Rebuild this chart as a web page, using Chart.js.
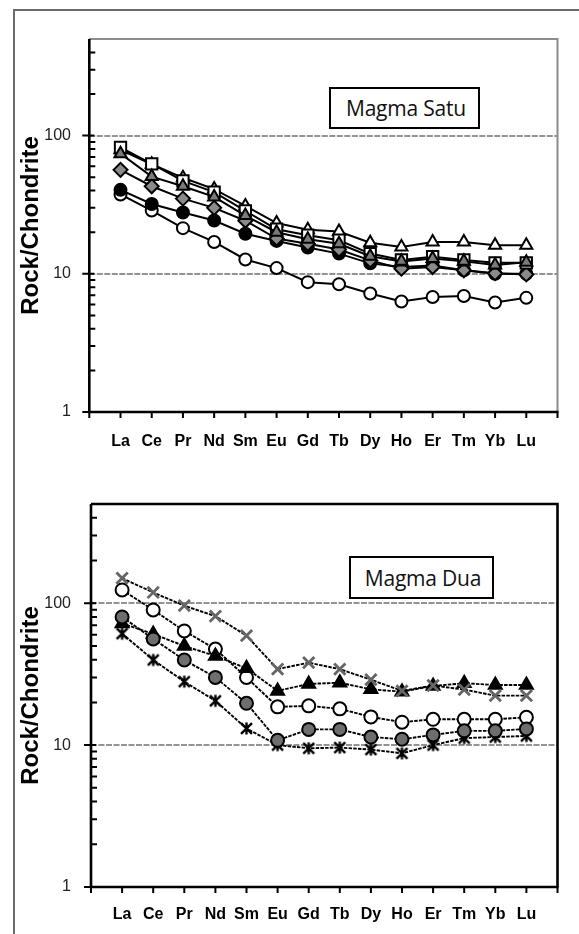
<!DOCTYPE html>
<html>
<head>
<meta charset="utf-8">
<script src="https://cdn.jsdelivr.net/npm/chart.js@4.4.0/dist/chart.umd.min.js"></script>
<style>
html,body{margin:0;padding:0;background:#fff;}
#wrap{position:relative;width:579px;height:934px;overflow:hidden;background:#fff;}
#frame{position:absolute;left:13px;top:9px;width:620px;height:980px;border-left:2px solid #6b6b6b;border-top:2px solid #6b6b6b;}
canvas{position:absolute;left:0;}
#c1{top:0;}
#c2{top:470px;}
.lbl{position:absolute;border:2px solid #000;background:#fff;font-family:'Open Sans',sans-serif;font-size:21px;color:#111;box-sizing:border-box;display:flex;align-items:center;justify-content:center;padding-left:3px;letter-spacing:-0.2px;}
</style>
</head>
<body>
<div id="wrap">
<div id="frame"></div>
<canvas id="c1" width="579" height="470"></canvas>
<canvas id="c2" width="579" height="464"></canvas>
<div class="lbl" style="left:329px;top:87px;width:151px;height:42px;">Magma Satu</div>
<div class="lbl" style="left:349px;top:556px;width:145px;height:43px;">Magma Dua</div>
</div>
<script>
// ---- categories & ticks ----
const elements = ['La','Ce','Pr','Nd','Sm','Eu','Gd','Tb','Dy','Ho','Er','Tm','Yb','Lu'];
const yLabelTicks = [1, 10, 100];
const yMinorTicks = [2,3,4,5,6,7,8,9,20,30,40,50,60,70,80,90,200,300,400];
const gridValues = [10, 100];
const yTitle = 'Rock/Chondrite';

// ---- Magma Satu (rock / chondrite) ----
const satuOpenTriangle = [79, 62, 49.5, 41, 31, 23.3, 20.8, 20.2, 16.8, 15.6, 17, 17, 16.1, 16.1];
const satuOpenSquare   = [82, 62.5, 47, 39, 28.5, 21, 19, 17.5, 14, 12.6, 13.3, 12.6, 12, 12];
const satuGrayTriangle = [74, 50.5, 43, 36, 26.4, 20, 17.8, 16.5, 13.4, 12.3, 12.9, 12.3, 11.6, 12.1];
const satuGrayDiamond  = [56.5, 43, 35, 30, 24.2, 18, 16.5, 15, 12.5, 10.9, 11.2, 10.6, 10.1, 9.9];
const satuBlackCircle  = [40.5, 32, 27.8, 24.3, 19.5, 17.3, 15.5, 14, 11.9, 11.2, 11.5, 10.6, 10, 10];
const satuOpenCircle   = [37.5, 28.7, 21.4, 17, 12.7, 11, 8.7, 8.4, 7.2, 6.3, 6.8, 6.9, 6.2, 6.7];

// ---- Magma Dua (rock / chondrite) ----
const duaGrayCross     = [150, 119, 96, 81, 59, 34.3, 38.1, 34.3, 28.9, 24.1, 26.3, 24.6, 22.3, 22.3];
const duaOpenCircle    = [124, 89.6, 63.7, 47.5, 30, 18.6, 18.9, 18, 15.8, 14.5, 15.2, 15.2, 15.2, 15.7];
const duaBlackTriangle = [72, 60.7, 49.9, 42.5, 34.8, 24.1, 27, 27.5, 24.7, 23.8, 26.1, 27.3, 26.5, 26.5];
const duaGrayCircle    = [80, 56, 39.8, 30, 19.7, 10.8, 12.9, 12.9, 11.4, 11, 11.8, 12.6, 12.6, 13];
const duaAsterisk      = [61, 39.8, 28, 20.5, 13.1, 10, 9.5, 9.6, 9.3, 8.75, 10, 11.2, 11.4, 11.6];

function asteriskMarker(r, lw) {
  const s = Math.ceil(2 * r + lw + 2);
  const c = document.createElement('canvas');
  c.width = s; c.height = s;
  const g = c.getContext('2d');
  const m = s / 2, d = r * 0.78;
  g.strokeStyle = '#000'; g.lineWidth = lw;
  g.beginPath();
  g.moveTo(m - d, m - d); g.lineTo(m + d, m + d);
  g.moveTo(m + d, m - d); g.lineTo(m - d, m + d);
  g.moveTo(m, m - r * 0.85); g.lineTo(m, m + r * 0.85);
  g.stroke();
  return c;
}

function series(values, style, fill, radius, extra) {
  return Object.assign({
    data: values.map((v, i) => ({ x: i, y: v })),
    borderColor: '#000',
    borderWidth: 2,
    tension: 0,
    fill: false,
    pointStyle: style,
    pointRadius: radius,
    pointHoverRadius: radius,
    pointBackgroundColor: fill,
    pointBorderColor: '#000',
    pointBorderWidth: 2
  }, extra || {});
}

function axesPlugin(g) {
  return {
    id: 'axesFrame',
    beforeDatasetsDraw(chart) {
      const { ctx, chartArea: a, scales: { y } } = chart;
      ctx.save();
      ctx.strokeStyle = '#939393'; ctx.lineWidth = 2; ctx.setLineDash([6, 1.5]);
      gridValues.forEach(v => {
        const py = Math.round(y.getPixelForValue(v));
        ctx.beginPath(); ctx.moveTo(a.left, py); ctx.lineTo(a.right, py); ctx.stroke();
      });
      ctx.restore();
    },
    afterDatasetsDraw(chart) {
      const { ctx, chartArea: a, scales: { x, y } } = chart;
      ctx.save();
      ctx.strokeStyle = g.farColor; ctx.lineWidth = g.farWidth;
      ctx.beginPath(); ctx.moveTo(a.left, a.top); ctx.lineTo(a.right, a.top); ctx.lineTo(a.right, a.bottom); ctx.stroke();
      ctx.strokeStyle = '#000'; ctx.lineWidth = 2.6;
      ctx.beginPath(); ctx.moveTo(a.left, a.top); ctx.lineTo(a.left, a.bottom); ctx.lineTo(a.right + 1, a.bottom); ctx.stroke();
      ctx.lineWidth = 2;
      ctx.beginPath();
      yLabelTicks.forEach(v => { const py = y.getPixelForValue(v); ctx.moveTo(a.left - 7, py); ctx.lineTo(a.left + 5, py); });
      yMinorTicks.forEach(v => { const py = y.getPixelForValue(v); ctx.moveTo(a.left - 1, py); ctx.lineTo(a.left + 6, py); });
      x.ticks.forEach(t => { const px = x.getPixelForValue(t.value); ctx.moveTo(px, a.bottom); ctx.lineTo(px, a.bottom + 6); });
      ctx.stroke();
      ctx.restore();
    }
  };
}

function makeChart(canvas, datasets, g) {
  return new Chart(canvas, {
    type: 'line',
    data: { datasets },
    options: {
      responsive: false,
      animation: false,
      devicePixelRatio: 1,
      layout: { padding: { left: 0, top: g.top, right: g.right, bottom: g.bottom } },
      plugins: { legend: { display: false }, tooltip: { enabled: false } },
      scales: {
        x: {
          type: 'linear', min: -1, max: 14,
          grid: { display: false, drawTicks: false },
          border: { display: false },
          ticks: {
            stepSize: 1, autoSkip: false, maxRotation: 0, minRotation: 0,
            padding: g.xPad, color: '#000',
            font: { family: "'Liberation Sans', Arial, sans-serif", size: 16, weight: 'bold' },
            callback: (v) => elements[v] ?? ''
          },
          afterFit: (s) => { s.height = g.xHeight; }
        },
        y: {
          type: 'logarithmic', min: 1, max: 500,
          grid: { display: false, drawTicks: false },
          border: { display: false },
          afterBuildTicks: (s) => { s.ticks = yLabelTicks.map(v => ({ value: v })); },
          ticks: {
            padding: g.yPad, color: '#222',
            font: { family: "'Liberation Sans', Arial, sans-serif", size: 16 },
            callback: (v) => String(v)
          },
          title: {
            display: true, text: yTitle, color: '#000',
            font: { family: "'Liberation Sans', Arial, sans-serif", size: 24, weight: 'bold' },
            padding: { top: g.titlePad, bottom: 0 }
          },
          afterFit: (s) => { s.width = g.yWidth; }
        }
      }
    },
    plugins: [axesPlugin(g)]
  });
}

const satuDatasets = [
  series(satuGrayTriangle, 'triangle', '#7a7a7a', 7),
  series(satuOpenSquare, 'rect', '#ffffff', 8),
  series(satuOpenTriangle, 'triangle', '#ffffff', 7),
  series(satuGrayDiamond, 'rectRot', '#8a8a8a', 7),
  series(satuBlackCircle, 'circle', '#000000', 6),
  series(satuOpenCircle, 'circle', '#ffffff', 6)
];

const dash = { borderDash: [3.5, 1.2], borderWidth: 1.9 };
const duaDatasets = [
  series(duaGrayCross, 'crossRot', '#666666', 8, Object.assign({ pointBorderColor: '#666666', pointBorderWidth: 2.8 }, dash)),
  series(duaGrayCircle, 'circle', '#6e6e6e', 6.5, dash),
  series(duaBlackTriangle, 'triangle', '#000000', 7.5, dash),
  series(duaOpenCircle, 'circle', '#ffffff', 6.5, dash),
  series(duaAsterisk, asteriskMarker(7, 2.4), '#000000', 7, dash)
];

makeChart(document.getElementById('c1'), satuDatasets, {
  top: 39, right: 21.5, bottom: 18, xHeight: 40, yWidth: 89.3,
  xPad: 20.4, yPad: 18.3, titlePad: 17, farColor: '#8c8c8c', farWidth: 2
});
makeChart(document.getElementById('c2'), duaDatasets, {
  top: 34, right: 21.5, bottom: 7, xHeight: 40, yWidth: 91,
  xPad: 18.4, yPad: 20, titlePad: 17, farColor: '#000', farWidth: 2.6
});
</script>
</body>
</html>
